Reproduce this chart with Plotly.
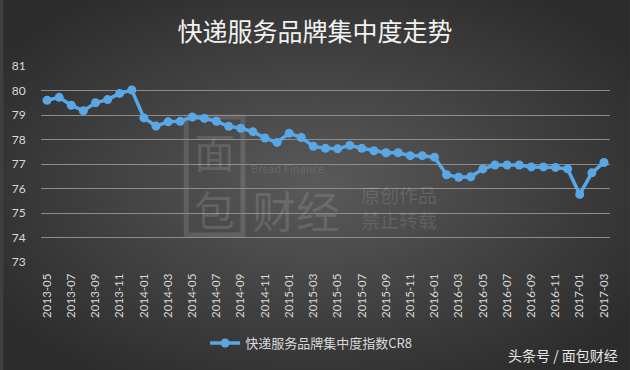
import base64
import plotly.graph_objects as go

months = [
    "2013-05", "2013-06", "2013-07", "2013-08", "2013-09", "2013-10", "2013-11", "2013-12",
    "2014-01", "2014-02", "2014-03", "2014-04", "2014-05", "2014-06", "2014-07", "2014-08",
    "2014-09", "2014-10", "2014-11", "2014-12",
    "2015-01", "2015-02", "2015-03", "2015-04", "2015-05", "2015-06", "2015-07", "2015-08",
    "2015-09", "2015-10", "2015-11", "2015-12",
    "2016-01", "2016-02", "2016-03", "2016-04", "2016-05", "2016-06", "2016-07", "2016-08",
    "2016-09", "2016-10", "2016-11", "2016-12",
    "2017-01", "2017-02", "2017-03",
]
cr8 = [
    79.6, 79.72, 79.4, 79.17, 79.5, 79.63, 79.88, 80.02,
    78.88, 78.55, 78.72, 78.74, 78.92, 78.86, 78.74, 78.54,
    78.46, 78.32, 78.06, 77.88,
    78.26, 78.08, 77.72, 77.64, 77.62, 77.76, 77.64, 77.54,
    77.46, 77.46, 77.34, 77.34,
    77.28, 76.56, 76.46, 76.48, 76.8, 76.96, 76.96, 76.96,
    76.88, 76.88, 76.86, 76.8,
    75.76, 76.64, 77.06,
]
tick_labels = months[::2]
y_ticks = [73, 74, 75, 76, 77, 78, 79, 80, 81]

series_name = "快递服务品牌集中度指数CR8"
title_text = "快递服务品牌集中度走势"

# radial gradient background as an inline SVG image
svg = (
    '<svg xmlns="http://www.w3.org/2000/svg" width="630" height="370" viewBox="0 0 630 370" preserveAspectRatio="none">'
    '<defs><radialGradient id="g" cx="50%" cy="50%" r="62%">'
    '<stop offset="0%" stop-color="#5a5a5a"/>'
    '<stop offset="100%" stop-color="#2c2c2c"/>'
    '</radialGradient></defs>'
    '<rect width="630" height="370" fill="url(#g)"/></svg>'
)
bg_src = "data:image/svg+xml;base64," + base64.b64encode(svg.encode()).decode()

CJK = "Noto Sans CJK SC"
LAT = "Lato, Noto Sans CJK SC"

fig = go.Figure()
fig.add_trace(go.Scatter(
    x=months, y=cr8, mode="lines+markers", name=series_name,
    line=dict(color="#5aa7e6", width=3.5),
    marker=dict(color="#5aa7e6", size=9),
))

L, R, T, B = 38, 20, 66, 108
PW, PH = 630 - L - R, 370 - T - B


def px(x):
    return (x - L) / PW


def py(y):
    return (370 - B - y) / PH


fig.update_layout(
    width=630, height=370,
    margin=dict(l=L, r=R, t=T, b=B),
    paper_bgcolor="#3f3f3f",
    plot_bgcolor="rgba(0,0,0,0)",
    images=[dict(source=bg_src, xref="paper", yref="paper",
                 x=px(0), y=py(0), sizex=630 / PW, sizey=370 / PH,
                 xanchor="left", yanchor="top", sizing="stretch", layer="below")],
    title=dict(text=title_text, x=0.5, xanchor="center", y=1 - 32 / 370, yanchor="middle",
               font=dict(family=CJK, size=25, color="#f2f2f2")),
    xaxis=dict(
        type="category", range=[-0.5, len(months) - 0.5],
        tickmode="array", tickvals=tick_labels, ticktext=tick_labels,
        tickangle=-90, showgrid=False, zeroline=False, showline=False,
        ticks="outside", ticklen=6, tickcolor="rgba(0,0,0,0)",
        tickfont=dict(family=LAT, size=11.5, color="#d9d9d9"),
    ),
    yaxis=dict(
        range=[73, 81], tickmode="array", tickvals=y_ticks,
        showgrid=True, gridcolor="#8c8c8c", gridwidth=1, zeroline=False, showline=False,
        ticks="outside", ticklen=12, tickcolor="rgba(0,0,0,0)",
        tickfont=dict(family=LAT, size=12, color="#d9d9d9"),
    ),
    showlegend=True,
    legend=dict(orientation="h", x=px(203), xanchor="left", y=py(343), yanchor="middle",
                font=dict(family=CJK, size=13, color="#d9d9d9"), bgcolor="rgba(0,0,0,0)"),
)

wm = "rgba(255,255,255,0.12)"
ann = [
    dict(text="面", x=212, y=150, size=41, anchor="center"),
    dict(text="包", x=212, y=208, size=41, anchor="center"),
    dict(text="财经", x=294, y=210, size=44, anchor="center"),
    dict(text="Bread Finance", x=247, y=168, size=11, anchor="left"),
    dict(text="原创作品<br>禁止转载", x=358, y=207, size=19, anchor="left"),
]
for a in ann:
    fig.add_annotation(
        text=a["text"], xref="paper", yref="paper", x=px(a["x"]), y=py(a["y"]),
        xanchor=a["anchor"], yanchor="middle", showarrow=False, align="left",
        font=dict(family=CJK, size=a["size"], color=wm),
    )
fig.add_shape(type="rect", xref="paper", yref="paper",
              x0=px(184), x1=px(241), y0=py(235), y1=py(117),
              line=dict(color=wm, width=5), layer="below")

fig.add_annotation(text="头条号 / 面包财经", xref="paper", yref="paper",
                   x=px(620), y=py(355), xanchor="right", yanchor="middle",
                   showarrow=False, font=dict(family=CJK, size=14, color="#e6e6e6"))

fig.write_html("out.html", config={"displayModeBar": False},
               post_script="document.body.style.margin='0';")
